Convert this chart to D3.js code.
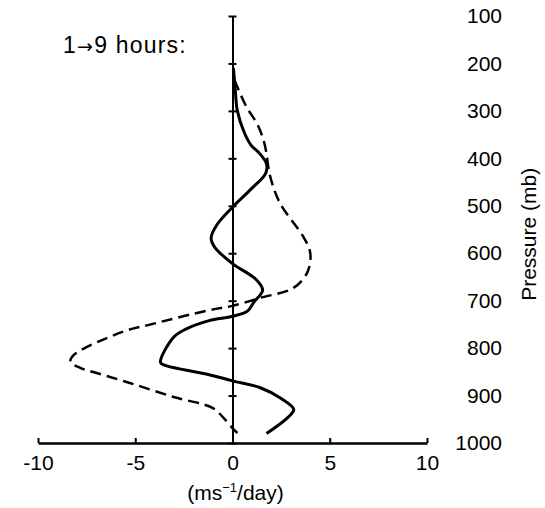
<!DOCTYPE html>
<html>
<head>
<meta charset="utf-8">
<script src="https://cdn.jsdelivr.net/npm/d3@7"></script>
<style>
  body { margin: 0; background: #fff; }
  text { font-family: "Liberation Sans", Arial, sans-serif; fill: #000; }
</style>
</head>
<body>
<div id="wrapper"></div>
<script>
// wind tendency (m/s per day) against pressure (mb)
const solidU = [0.05, 0.15, 0.25, 0.6, 0.95, 1.4, 1.75, 1.7, 0.95, 0, -0.8, -1.1, -0.9, 0, 1.2, 1.55, 1.1, 0.77, 0, -1.2, -2.4, -3.05, -3.7, -3.5, -1.2, 0, 1.4, 2.5, 3.15, 2.85, 1.75];
const solidP = [210, 260, 300, 345, 372, 390, 412, 432, 465, 503, 540, 568, 588, 622, 655, 678, 703, 722, 733, 742, 760, 778, 830, 836, 856, 869, 883, 906, 929, 946, 980];

const dashedU = [0.1, 0.7, 1.3, 1.65, 1.95, 2.45, 3.65, 4.0, 3.85, 3.14, 1.44, 0, -1.2, -4.2, -5.6, -8.17, -8.33, -7.8, -6.94, -5.24, -3.03, -1.03, -0.46, 0.07, 0.25];
const dashedP = [235, 290, 330, 370, 440, 495, 566, 600, 640, 673, 694, 711, 720, 750, 765, 815, 829, 842, 853, 874, 903, 926, 947, 972, 979];

const xTicks = [-10, -5, 0, 5, 10];
const pressureTicks = [100, 200, 300, 400, 500, 600, 700, 800, 900, 1000];

const width = 545;
const height = 508;

const svg = d3.select("#wrapper").append("svg")
  .attr("width", width)
  .attr("height", height);

const xScale = d3.scaleLinear().domain([-10, 10]).range([38, 427]);
const yScale = d3.scaleLinear().domain([100, 1000]).range([16, 443]);

// x axis, ticks pointing up
const xAxis = svg.append("g")
  .attr("transform", `translate(0,${yScale(1000)})`)
  .call(d3.axisBottom(xScale)
    .tickValues(xTicks)
    .tickFormat(d => String(d))
    .tickSizeInner(-5)
    .tickSizeOuter(0)
    .tickPadding(12));
xAxis.select(".domain").attr("stroke", "#000").attr("stroke-width", 2.5);
xAxis.selectAll(".tick line").attr("stroke", "#000").attr("stroke-width", 2);
xAxis.selectAll(".tick text")
  .style("font-size", "21px")
  .style("font-family", "Liberation Sans, Arial, sans-serif");

// pressure axis: vertical line at u = 0, labels far right
const yAxis = svg.append("g")
  .attr("transform", `translate(${xScale(0)},0)`)
  .call(d3.axisRight(yScale)
    .tickValues(pressureTicks)
    .tickFormat(d => String(d))
    .tickSizeOuter(0)
    .tickSizeInner(4));
yAxis.select(".domain").attr("stroke", "#000").attr("stroke-width", 2);
yAxis.selectAll(".tick line").attr("x1", -4).attr("stroke", "#000").attr("stroke-width", 2);
yAxis.selectAll(".tick text")
  .attr("x", 502 - xScale(0))
  .attr("text-anchor", "end")
  .style("font-size", "21px")
  .style("font-family", "Liberation Sans, Arial, sans-serif");

const line = d3.line()
  .x(d => xScale(d[0]))
  .y(d => yScale(d[1]))
  .curve(d3.curveCatmullRom.alpha(0.5));

svg.append("path")
  .attr("d", line(d3.zip(dashedU, dashedP)))
  .attr("fill", "none")
  .attr("stroke", "#000")
  .attr("stroke-width", 2.5)
  .attr("stroke-dasharray", "11,6");

svg.append("path")
  .attr("d", line(d3.zip(solidU, solidP)))
  .attr("fill", "none")
  .attr("stroke", "#000")
  .attr("stroke-width", 3);

const label = svg.append("text")
  .attr("x", 63)
  .attr("y", 53)
  .style("font-size", "23px")
  .style("letter-spacing", "1.2px");
label.append("tspan").text("1");
label.append("tspan").style("font-family", "DejaVu Sans").style("font-size", "19px").text("→");
label.append("tspan").text("9 hours:");

svg.append("text")
  .attr("transform", `translate(536,${yScale(400) + 76}) rotate(-90)`)
  .attr("text-anchor", "middle")
  .style("font-size", "21px")
  .text("Pressure (mb)");

const xTitle = svg.append("text")
  .attr("x", xScale(0) + 3)
  .attr("y", 500)
  .attr("text-anchor", "middle")
  .style("font-size", "21px");
xTitle.append("tspan").text("(ms");
xTitle.append("tspan").attr("dy", -8).style("font-size", "13px").text("−1");
xTitle.append("tspan").attr("dy", 8).text("/day)");
</script>
</body>
</html>
